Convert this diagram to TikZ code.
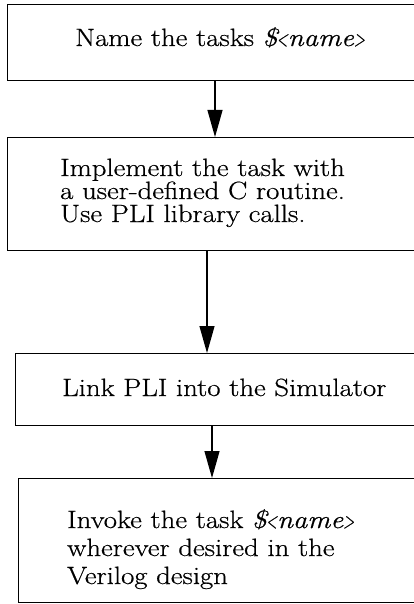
\documentclass[tikz,border=0pt]{standalone}
\usepackage{fontspec}
\setmainfont{Latin Modern Roman}[FakeStretch=1.15,FakeBold=0.6]
\usetikzlibrary{arrows.meta}
\newcommand{\ltsym}{\scalebox{0.5}[0.9]{<}}
\newcommand{\gtsym}{\scalebox{0.5}[0.9]{>}}
\begin{document}
\begin{tikzpicture}[x=1pt,y=-1pt,
  box/.style={draw,line width=1.4pt,rectangle,inner sep=0pt,anchor=north west},
  txt/.style={inner sep=0pt,anchor=base west,align=left},
  arr/.style={line width=1.2pt,-{Triangle[length=27pt,width=15pt]}}]
\useasboundingbox (0,0) rectangle (413,604);
\node[box,minimum width=409pt,minimum height=76pt] (b1) at (7,4) {};
\node[box,minimum width=409pt,minimum height=113pt] (b2) at (7,137) {};
\node[box,minimum width=401pt,minimum height=72pt] (b3) at (15,353) {};
\node[box,minimum width=398pt,minimum height=124pt] (b4) at (18,478) {};
\node[txt,font=\fontsize{25}{23}\selectfont] (t1) at (75,46) {Name the tasks \textit{\$\ltsym name\gtsym}};
\node[txt,font=\fontsize{25}{23}\selectfont] (t2) at (60,222) {Implement the task with\\a user-defined C routine.\\Use PLI library calls.};
\node[txt,font=\fontsize{25}{23}\selectfont] (t3) at (62,396) {Link PLI into the Simulator};
\node[txt,font=\fontsize{25}{28}\selectfont] (t4) at (67,584) {Invoke the task \textit{\$\ltsym name\gtsym}\\wherever desired in the\\Verilog design};
\coordinate (x1) at (215,0);
\coordinate (x2) at (207,0);
\coordinate (x3) at (212,0);
\draw[arr] (b1.south -| x1) -- (b2.north -| x1);
\draw[arr] (b2.south -| x2) -- (b3.north -| x2);
\draw[arr] (b3.south -| x3) -- (b4.north -| x3);
\end{tikzpicture}
\end{document}
